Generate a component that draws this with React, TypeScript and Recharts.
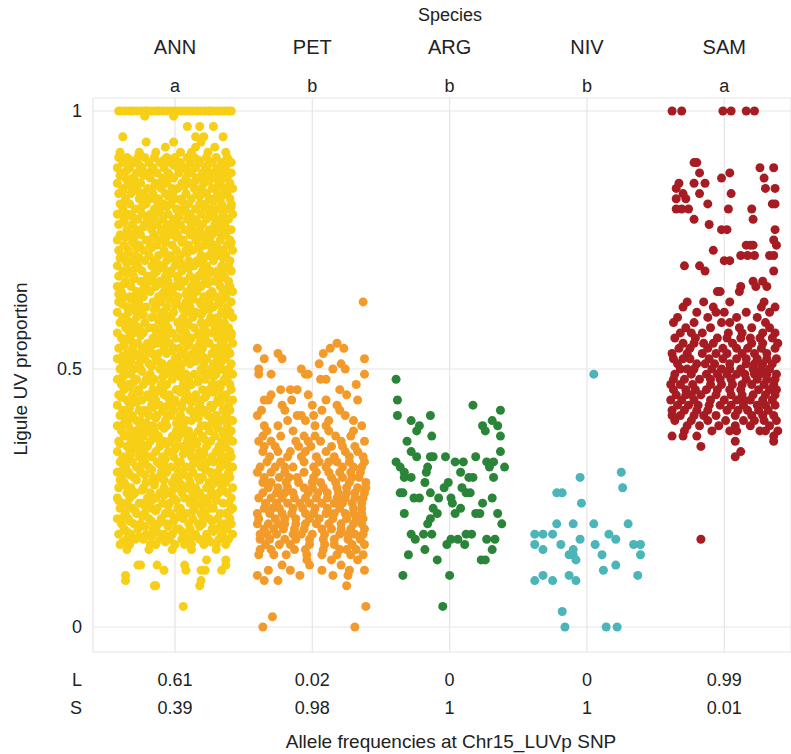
import { CartesianGrid, Scatter, ScatterChart, XAxis, YAxis } from 'recharts';

type Row = [number, number[]];

// categories and per-column annotations
const species = ['ANN', 'PET', 'ARG', 'NIV', 'SAM'];
const letters = ['a', 'b', 'b', 'b', 'a'];
const freqL = ['0.61', '0.02', '0', '0', '0.99'];
const freqS = ['0.39', '0.98', '1', '1', '0.01'];
const colors = ['#F6CF16', '#F29B2B', '#2A8538', '#4BB5B9', '#A61C22'];
const yTicks = [0, 0.5, 1];
const xTicks = [0, 1, 2, 3, 4];

// rows: [ligule UV proportion (x100), jitter offsets within the column (x100)]
const annRows: Row[] = [
  [100, [-41, -39, -36, -33, -31, -28, -25, -22, -20, -17, -14, -12, -9, -6, -3, 0, 2, 5, 8, 11, 13, 16, 19, 22, 25, 27, 30, 33, 36, 39, 41]],
  [99, [-22, -1]],
  [97, [9, 18, 28]],
  [95, [-38, 15, 21, 35]],
  [94, [-21, -1, 19]],
  [93, [-7, 15, 29]],
  [92, [-40, -26, -14, 4, 12, 24, 37]],
  [91, [-41, -35, -27, -22, -15, -6, 0, 9, 14, 23, 30, 38]],
  [90.5, [-33, -8, 17, 39]],
  [90, [-38, -30, -19, -11, -3, 4, 11, 18, 27, 34, 41]],
  [89.5, [-26, -1, 24]],
  [89, [-42, -33, -24, -16, -8, 2, 7, 15, 22, 31, 37]],
  [88.5, [-35, -17, 9, 30]],
  [88, [-39, -28, -21, -13, -5, 3, 12, 20, 26, 35, 41]],
  [87.5, [-40, -23, -4, 20, 34]],
  [87, [-36, -31, -18, -9, -1, 8, 16, 24, 29, 38]],
  [86.5, [-29, -9, 15, 25]],
  [86, [-42, -34, -25, -14, -6, 5, 11, 21, 33, 40]],
  [85.5, [-33, -15, 7, 31]],
  [85, [-38, -29, -20, -10, -2, 2, 14, 19, 27, 36, 42]],
  [84.5, [-38, -27, -1, 20]],
  [84, [-41, -32, -23, -16, -7, 8, 16, 23, 31, 38]],
  [83.5, [-22, -5, 18, 34]],
  [83, [-36, -26, -18, -12, 0, 5, 12, 25, 29, 40]],
  [82.5, [-36, -13, 5, 28]],
  [82, [-40, -33, -21, -8, -3, 10, 18, 22, 34, 41]],
  [81.5, [-24, -6, 21, 41]],
  [81, [-38, -29, -15, -11, 1, 6, 15, 26, 31, 37]],
  [80.5, [-38, -11, 8, 25]],
  [80, [-42, -34, -24, -18, -5, 3, 11, 19, 28, 35, 42]],
  [79.5, [-31, -15, 3, 28]],
  [79, [-37, -27, -20, -9, -1, 9, 14, 23, 33, 39]],
  [78.5, [-37, -18, -1, 16, 33]],
  [78, [-41, -31, -22, -13, -6, 4, 12, 20, 29, 36]],
  [77.5, [-23, -5, 12, 37]],
  [77, [-35, -28, -17, -10, 0, 7, 18, 25, 31, 41]],
  [76.5, [-29, -9, 16, 32]],
  [76, [-40, -33, -25, -15, -4, 2, 11, 21, 27, 37]],
  [75.5, [-36, -16, 1, 20]],
  [75, [-42, -30, -21, -11, -7, 6, 15, 24, 33, 40]],
  [74.5, [-31, -7, 5, 26, 41]],
  [74, [-37, -26, -18, -13, -2, 10, 17, 22, 30, 38]],
  [73.5, [-28, -17, 18, 31]],
  [73, [-41, -34, -23, -8, 1, 8, 13, 27, 35, 42]],
  [72.5, [-34, -8, 9, 29]],
  [72, [-39, -29, -19, -12, -4, 4, 19, 25, 32, 37]],
  [71.5, [-40, -26, -2, 21, 35]],
  [71, [-36, -31, -22, -15, -6, 3, 10, 16, 28, 40]],
  [70.5, [-35, -13, 4, 19]],
  [70, [-42, -27, -17, -9, 0, 9, 14, 23, 34, 39]],
  [69.5, [-29, -8, 10, 36]],
  [69, [-38, -33, -24, -13, -3, 5, 20, 26, 31, 41]],
  [68.5, [-35, -15, -3, 19, 30]],
  [68, [-41, -30, -20, -7, 2, 11, 17, 24, 36]],
  [67.5, [-30, -20, 2, 33]],
  [67, [-36, -25, -16, -11, -5, 7, 14, 22, 29, 39]],
  [66.5, [-37, -9, 16, 24]],
  [66, [-42, -32, -21, -14, 0, 4, 12, 19, 33, 40]],
  [65.5, [-23, -4, 13, 38]],
  [65, [-39, -28, -18, -8, -2, 9, 16, 27, 35, 42]],
  [64.5, [-41, -28, -9, 8, 25]],
  [64, [-37, -33, -23, -12, -5, 2, 13, 21, 30, 37]],
  [63.5, [-32, -4, 13, 35]],
  [63, [-41, -27, -16, -10, 1, 8, 18, 25, 32, 41]],
  [62.5, [-38, -26, 0, 19, 32]],
  [62, [-35, -30, -21, -14, -6, 5, 11, 23, 28, 38]],
  [61.5, [-30, -15, 6, 25]],
  [61, [-42, -34, -25, -9, -1, 10, 15, 20, 34, 40]],
  [60.5, [-23, -7, 19, 37]],
  [60, [-38, -28, -17, -12, -3, 6, 13, 26, 31, 42]],
  [59.5, [-35, -12, 5, 29]],
  [59, [-40, -32, -22, -7, 2, 9, 19, 24, 36]],
  [58.5, [-29, -9, 10, 33]],
  [58, [-36, -26, -19, -15, -5, 4, 14, 21, 29, 39]],
  [57.5, [-34, -14, 4, 22, 36]],
  [57, [-42, -30, -23, -10, -2, 8, 17, 27, 33, 41]],
  [56.5, [-25, -6, 17, 41]],
  [56, [-39, -34, -16, -11, 1, 6, 12, 22, 31, 37]],
  [55.5, [-32, -9, 6, 22]],
  [55, [-37, -27, -20, -13, -4, 10, 18, 25, 35, 42]],
  [54.5, [-37, -17, 9, 33]],
  [54, [-41, -31, -24, -8, -1, 3, 15, 20, 29, 38]],
  [53.5, [-22, -2, 17, 37]],
  [53, [-35, -29, -17, -12, -6, 7, 13, 27, 33, 40]],
  [52.5, [-38, -27, 3, 20]],
  [52, [-42, -33, -22, -14, 0, 9, 16, 23, 31, 37]],
  [51.5, [-32, -12, 15, 34]],
  [51, [-38, -26, -19, -9, -3, 5, 11, 21, 28, 41]],
  [50.5, [-35, -17, 0, 30]],
  [50, [-40, -30, -25, -11, -5, 4, 19, 26, 34, 39]],
  [49.5, [-24, -3, 20, 37]],
  [49, [-36, -32, -18, -7, 2, 8, 14, 24, 30, 42]],
  [48.5, [-38, -9, 4, 28]],
  [48, [-42, -28, -21, -15, -2, 10, 17, 22, 36, 38]],
  [47.5, [-30, -17, 17, 35]],
  [47, [-39, -34, -23, -10, -6, 6, 12, 27, 32, 40]],
  [46.5, [-33, -8, 9, 33]],
  [46, [-37, -27, -16, -12, 1, 3, 20, 25, 29, 41]],
  [45.5, [-26, -14, 4, 28]],
  [45, [-41, -31, -20, -8, -4, 9, 15, 23, 34, 37]],
  [44.5, [-39, -19, -5, 22, 37]],
  [44, [-35, -29, -24, -14, 0, 7, 13, 19, 31, 42]],
  [43.5, [-28, 0, 12, 33]],
  [43, [-42, -33, -17, -11, -5, 5, 18, 26, 28, 39]],
  [42.5, [-33, -16, 5, 27]],
  [42, [-38, -26, -22, -9, -1, 11, 16, 21, 35, 40]],
  [41.5, [-36, -24, -7, 19]],
  [41, [-40, -31, -19, -13, -3, 4, 14, 24, 30, 37]],
  [40.5, [-31, -14, 17, 38]],
  [40, [-36, -28, -25, -7, 2, 8, 12, 27, 33, 42]],
  [39.5, [-37, -21, 1, 27]],
  [39, [-42, -34, -16, -10, -6, 6, 19, 22, 31, 38]],
  [38.5, [-26, -8, 5, 31]],
  [38, [-39, -30, -21, -15, 1, 10, 17, 25, 36, 41]],
  [37.5, [-33, -17, 8, 35]],
  [37, [-37, -27, -23, -12, -2, 3, 13, 20, 29, 39]],
  [36.5, [-28, -13, 2, 21, 38]],
  [36, [-41, -32, -18, -8, -4, 9, 15, 26, 34, 42]],
  [35.5, [-40, -24, -6, 16]],
  [35, [-35, -29, -20, -11, 0, 5, 11, 23, 32, 37]],
  [34.5, [-29, 0, 12, 34]],
  [34, [-42, -33, -24, -14, -5, 7, 18, 21, 30, 40]],
  [33.5, [-32, -22, 6, 21]],
  [33, [-38, -26, -17, -9, -1, 12, 16, 27, 35, 41]],
  [32.5, [-35, -7, 19, 33]],
  [32, [-40, -31, -22, -13, 2, 4, 14, 24, 28, 38]],
  [31.5, [-24, -11, 13, 37]],
  [31, [-36, -28, -19, -7, -3, 8, 19, 22, 33, 42]],
  [30.5, [-38, -17, 2, 22]],
  [30, [-42, -34, -25, -10, -6, 6, 13, 26, 31, 39]],
  [29.5, [-33, -22, 5, 27]],
  [29, [-39, -30, -16, -12, 0, 10, 17, 20, 36, 40]],
  [28.5, [-40, -28, -8, 18, 32]],
  [28, [-37, -21, -15, -2, 3, 11, 25, 29, 37]],
  [27.5, [-36, -15, 5, 27]],
  [27, [-41, -32, -23, -8, 1, 9, 15, 23, 34, 42]],
  [26.5, [-24, -2, 12, 35]],
  [26, [-35, -29, -18, -11, -5, 5, 18, 27, 32, 38]],
  [25.5, [-31, -8, 16, 26]],
  [25, [-42, -33, -20, -14, -1, 7, 12, 21, 30, 41]],
  [24.5, [-41, -17, 1, 30]],
  [24, [-38, -26, -24, -9, -4, 11, 16, 24, 35, 39]],
  [23.5, [-34, -22, -5, 20]],
  [23, [-40, -31, -17, -13, 2, 4, 14, 26, 28, 42]],
  [22.5, [-29, -14, 13, 40]],
  [22, [-36, -28, -22, -7, -3, 8, 19, 22, 33, 37]],
  [21.5, [-37, -24, 3, 20]],
  [21, [-42, -34, -19, -10, 0, 6, 13, 25, 31, 40]],
  [20.5, [-33, -17, -1, 27]],
  [20, [-39, -30, -25, -12, -6, 10, 17, 20, 36, 41]],
  [19.5, [-22, -5, 18, 33]],
  [19, [-37, -27, -16, -15, 1, 3, 11, 27, 29, 38]],
  [18.5, [-35, -13, 5, 28]],
  [18, [-41, -32, -21, -8, -2, 9, 15, 23, 34, 42]],
  [17.5, [-26, -17, 13, 35]],
  [17, [-35, -29, -23, -11, -4, 5, 18, 24, 32, 39]],
  [16.5, [-38, -7, 9, 26]],
  [16, [-40, -33, -18, -14, 0, 7, 12, 21, 30, 37]],
  [15, [-35, -19, -2, 12, 30]],
  [13, [23, 37]],
  [12, [-27, -25, -13, 7, 37]],
  [11, [-8, 8, 19, 22, 34]],
  [10, [-36]],
  [9, [-36, 19]],
  [8, [-15, -14, 18]],
  [4, [6]],
];

const petRows: Row[] = [
  [63, [37]],
  [55, [18]],
  [54, [-40, 13, 23]],
  [53, [-25, 8]],
  [52, [-35, -22, 38]],
  [51, [5, 21]],
  [50, [-39, -8, 15, 24]],
  [49, [-39, -30, -5, -3, 38]],
  [48, [6, 10]],
  [47, [32]],
  [46, [-23, -16, -11, 20]],
  [45, [-30, -3, 25]],
  [44, [-35, -32, -15, 10, 33]],
  [43, [-22, 0, 18]],
  [42, [-37, -20, 7, 20]],
  [41, [-40, -11, -8, 1, 24]],
  [40, [-18, -5, 12, 30]],
  [39, [-35, -25, 2, 10, 36]],
  [38, [-33, -14, 12, 30]],
  [37, [-36, -23, -6, 2, 17, 28]],
  [36, [-39, -30, -12, -3, 6, 21, 38]],
  [35, [-35, -27, -10, -1, 14, 22, 31]],
  [34, [-36, -25, -16, -5, 10, 24, 33]],
  [33, [-31, -18, -8, 3, 16, 27, 37]],
  [32, [-33, -23, -6, 5, 12, 18, 27, 38]],
  [31, [-38, -27, -20, -14, 1, 10, 22, 30, 36]],
  [30, [-40, -30, -20, -6, 3, 12, 20, 28, 35]],
  [29, [-35, -24, -17, -11, 1, 14, 22, 29, 34]],
  [28, [-36, -30, -19, -10, 0, 6, 17, 27, 39]],
  [27, [-32, -25, -18, -6, 0, 8, 18, 25, 33, 39]],
  [26, [-36, -26, -20, -14, -3, 4, 11, 19, 25, 31, 38]],
  [25, [-39, -30, -22, -13, -5, 3, 11, 18, 24, 31, 37]],
  [24, [-34, -26, -18, -9, -2, 7, 16, 22, 29, 36]],
  [23, [-35, -29, -24, -14, -7, 2, 11, 20, 30, 36]],
  [22, [-40, -31, -22, -15, -5, 1, 10, 16, 24, 30, 36]],
  [21, [-39, -27, -20, -12, -2, 5, 15, 25, 32, 37]],
  [20, [-40, -32, -25, -20, -12, -5, 3, 12, 21, 30, 36]],
  [19, [-35, -28, -21, -13, -6, 7, 14, 21, 28, 38]],
  [18, [-38, -33, -26, -14, -8, 0, 9, 20, 26, 31, 37]],
  [17, [-38, -31, -20, -12, -2, 8, 16, 26, 35]],
  [16, [-34, -24, -16, -2, 9, 16, 29, 38]],
  [15, [-38, -30, -13, -5, 8, 20, 25, 32]],
  [14, [-39, -28, -19, -4, 7, 18, 28, 37]],
  [13, [-4, 14, 33]],
  [12, [-22, -2, 21]],
  [11, [-32, -16, 7, 27, 38]],
  [10, [-40, -9, 15, 26]],
  [9, [-35, -25]],
  [8, [25]],
  [4, [39]],
  [2, [-29]],
  [0, [-36, 31]],
];

const argRows: Row[] = [
  [48, [-39]],
  [44, [-38]],
  [43, [17]],
  [42, [37]],
  [41, [-38, -14]],
  [40, [-28, 31]],
  [39, [-22, 24, 35]],
  [38, [-24, 26]],
  [37, [-13, 37]],
  [36, [-31]],
  [34, [-28, 37]],
  [33, [-24, -14, -12, -3, 19]],
  [32, [-39, 4, 10, 27, 32]],
  [31, [-36, -16, 29, 40]],
  [30, [-33, -17, 8]],
  [29, [-33, -28, 14, 17, 32]],
  [28, [-18, -1]],
  [27, [-4, 9]],
  [26, [-36, -34, -14, 12, 15]],
  [25, [-26, -22, -8, 1, 31]],
  [24, [2, 24]],
  [23, [-12, 8]],
  [22, [-33, -9, 4, 19, 22, 35]],
  [21, [-14]],
  [20, [-16, 38]],
  [18, [-28, -19, -13, 12, 16]],
  [17, [-25, 1, 6, 27, 33]],
  [16, [-2, 11]],
  [15, [-18, 31]],
  [14, [-30]],
  [13, [-9, 23, 26]],
  [10, [-34, 0]],
  [4, [-5]],
];

const nivRows: Row[] = [
  [49, [5]],
  [30, [25]],
  [29, [-5]],
  [27, [26]],
  [26, [-22, -18]],
  [24, [-4]],
  [20, [-22, -10, 5, 30]],
  [18, [-38, -32, -25, 16]],
  [17, [-5, 21]],
  [16, [-38, -19, 6, 34, 39]],
  [15, [-32, -10]],
  [14, [-13, -10, 11, 39]],
  [13, [-8]],
  [12, [21]],
  [11, [12]],
  [10, [-32, -13, 37]],
  [9, [-38, -25, -8]],
  [3, [-18]],
  [0, [-16, 14, 22]],
];

const samRows: Row[] = [
  [100, [-38, -31, -1, 5, 16, 22]],
  [90, [-22, -20]],
  [89, [26, 36]],
  [88, [-18, 4]],
  [87, [-2, 29]],
  [86, [-33, -22, -14]],
  [85, [-35, 30, 37]],
  [84, [-30, -18, 5]],
  [83, [-35, -28]],
  [82, [-12, 35, 37]],
  [81, [-35, -31, -26, 3, 20]],
  [79, [-22, 21]],
  [78, [-11]],
  [77, [-2, 2, 37]],
  [75, [36]],
  [74, [16, 19, 21, 38]],
  [73, [-8]],
  [72, [12, 17, 22, 33, 36]],
  [71, [0, 4]],
  [70, [-29, -18]],
  [69, [-14, 36]],
  [67, [21, 28]],
  [66, [12, 23, 31]],
  [65, [-5, -3, 11]],
  [63, [-27, -15, 4, 29]],
  [62, [-30, -8, 27, 37]],
  [61, [-20, -6, 0, 16, 33]],
  [60, [-34, -12, 9, 24]],
  [59, [-37, -22, -2, 4, 30]],
  [58, [-28, -10, 11, 20, 33]],
  [57, [-32, -24, -16, 3, 13, 28, 37]],
  [56, [-36, -21, -5, 2, 12, 19, 26, 35]],
  [55, [-30, -22, -15, -8, 6, 20, 28, 39]],
  [54, [-33, -25, -12, -1, 9, 17, 27, 37]],
  [53, [-38, -27, -16, -6, 2, 13, 22, 31]],
  [52, [-37, -30, -25, -11, -1, 9, 16, 24, 31, 38]],
  [51, [-34, -20, -14, -7, 4, 16, 22, 28, 35]],
  [50, [-32, -27, -22, -9, -2, 4, 12, 21, 27, 33]],
  [49, [-36, -24, -13, -5, 2, 9, 15, 22, 26, 31, 38]],
  [48, [-37, -29, -18, -10, -3, 5, 16, 24, 31, 37]],
  [47, [-39, -32, -23, -10, -2, 6, 13, 20, 29, 36]],
  [46, [-37, -28, -21, -13, -5, 4, 12, 25, 33, 38]],
  [45, [-35, -28, -24, -17, -6, 5, 13, 21, 30, 37]],
  [44, [-39, -31, -22, -10, 0, 9, 14, 19, 28, 35]],
  [43, [-34, -26, -19, -11, -3, 5, 14, 24, 30, 37]],
  [42, [-38, -29, -20, -12, 2, 10, 17, 25, 32]],
  [41, [-38, -32, -22, -15, -6, 8, 20, 28, 36]],
  [40, [-36, -24, -12, 1, 14, 22, 29, 38]],
  [39, [-27, -18, -4, 8, 19, 33]],
  [38, [-29, -9, 4, 9, 26, 30, 39]],
  [37, [-38, -30, -20, 36]],
  [36, [8, 36]],
  [35, [-17]],
  [34, [12]],
  [33, [8]],
  [17, [-17]],
];

const groups = [annRows, petRows, argRows, nivRows, samRows];

const toPoints = (rows: Row[], idx: number) =>
  rows.flatMap(([y, offsets]) => offsets.map((dx) => ({ x: idx + dx / 100, y: y / 100 })));

const FONT = '"Liberation Sans", Arial, Helvetica, sans-serif';
const INK = '#222';

const TopTick = ({ x, payload }: any) => (
  <g fontFamily={FONT} fill={INK}>
    <text x={x} y={47} textAnchor="middle" dominantBaseline="central" fontSize={20}>
      {species[payload.value]}
    </text>
    <text x={x} y={86} textAnchor="middle" dominantBaseline="central" fontSize={18}>
      {letters[payload.value]}
    </text>
  </g>
);

const BottomTick = ({ x, payload }: any) => (
  <g fontFamily={FONT} fill={INK}>
    <text x={x} y={680} textAnchor="middle" dominantBaseline="central" fontSize={18}>
      {freqL[payload.value]}
    </text>
    <text x={x} y={708} textAnchor="middle" dominantBaseline="central" fontSize={18}>
      {freqS[payload.value]}
    </text>
  </g>
);

const LeftTick = ({ y, payload }: any) => (
  <text x={82} y={y} textAnchor="end" dominantBaseline="central" fontSize={18} fontFamily={FONT} fill={INK}>
    {payload.value}
  </text>
);

const dot = (color: string) => (props: any) => <circle cx={props.cx} cy={props.cy} r={4.5} fill={color} />;

export default function App() {
  return (
    <div style={{ position: 'absolute', left: 0, top: 0, width: 791, height: 754, background: '#fff', fontFamily: FONT }}>
      <ScatterChart width={791} height={754} margin={{ top: 0, right: 0, bottom: 0, left: 53 }}>
        <CartesianGrid stroke="#E6E6E6" strokeWidth={1.2} />
        <XAxis
          type="number"
          dataKey="x"
          domain={[-0.597, 4.486]}
          ticks={xTicks}
          interval={0}
          allowDataOverflow
          height={102}
          axisLine={false}
          tickLine={false}
          tick={BottomTick}
        />
        <XAxis
          xAxisId="top"
          orientation="top"
          type="number"
          dataKey="x"
          domain={[-0.597, 4.486]}
          ticks={xTicks}
          interval={0}
          allowDataOverflow
          height={98}
          axisLine={false}
          tickLine={false}
          tick={TopTick}
        />
        <YAxis
          type="number"
          dataKey="y"
          domain={[-0.0484, 1.0252]}
          ticks={yTicks}
          interval={0}
          allowDataOverflow
          width={40}
          axisLine={false}
          tickLine={false}
          tick={LeftTick}
        />
        {groups.map((rows, i) => (
          <Scatter
            key={species[i]}
            name={species[i]}
            data={toPoints(rows, i)}
            fill={colors[i]}
            shape={dot(colors[i])}
            isAnimationActive={false}
          />
        ))}
      </ScatterChart>
      <svg
        width={791}
        height={754}
        style={{ position: 'absolute', left: 0, top: 0, pointerEvents: 'none' }}
        fontFamily={FONT}
        fill={INK}
      >
        <text x={450} y={15} textAnchor="middle" dominantBaseline="central" fontSize={18}>
          Species
        </text>
        <text x={82} y={680} textAnchor="end" dominantBaseline="central" fontSize={18}>
          L
        </text>
        <text x={82} y={708} textAnchor="end" dominantBaseline="central" fontSize={18}>
          S
        </text>
        <text x={451} y={741} textAnchor="middle" dominantBaseline="central" fontSize={19}>
          Allele frequencies at Chr15_LUVp SNP
        </text>
        <text
          x={20}
          y={369}
          textAnchor="middle"
          dominantBaseline="central"
          fontSize={19}
          transform="rotate(-90 20 369)"
        >
          Ligule UV proportion
        </text>
      </svg>
    </div>
  );
}
